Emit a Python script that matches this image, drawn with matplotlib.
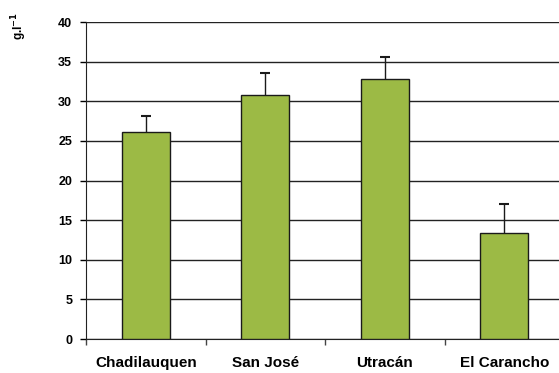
import numpy as np
import matplotlib.pyplot as plt

plt.rcParams['font.family'] = ['Liberation Sans', 'DejaVu Sans']
plt.rcParams['font.weight'] = 'bold'

sitios = ['Chadilauquen', 'San José', 'Utracán', 'El Carancho']
medias = [26.1, 30.8, 32.8, 13.4]
errores = [2.1, 2.8, 2.8, 3.7]

fig = plt.figure(figsize=(5.59, 3.73), dpi=100)
ax = fig.add_axes([0.154, 0.091, 0.855, 0.85])

x = np.arange(len(sitios))
ax.bar(x, medias, width=0.4, color='#9cba45', edgecolor='#1a1a1a', linewidth=1.0, zorder=3)
# upper error only
_, caps, _ = ax.errorbar(x, medias, yerr=[np.zeros(len(errores)), errores], fmt='none',
                         ecolor='#1a1a1a', elinewidth=1.0, capsize=3.5, capthick=1.5, zorder=2)
caps[0].set_visible(False)

ax.set_xlim(-0.5, 3.5)
ax.set_ylim(0, 40)
ax.set_yticks(range(0, 41, 5))
ax.yaxis.grid(True, color='#222222', linewidth=1.0, zorder=0)

# ticks between categories
ax.set_xticks(np.arange(-0.5, 4, 1.0))
ax.set_xticklabels([])
ax.set_xticks(x, minor=True)
ax.set_xticklabels(sitios, minor=True, fontsize=11, fontweight='bold')
ax.tick_params(axis='x', which='minor', length=0, pad=12)
ax.tick_params(axis='x', which='major', length=4, width=1, color='#444444')
ax.tick_params(axis='y', length=4, width=1, labelsize=9, pad=6)

for s in ['top', 'right']:
    ax.spines[s].set_visible(False)
ax.spines['left'].set_color('#222222')
ax.spines['bottom'].set_color('#222222')

fig.text(0.035, 0.93, 'g.l$^{-1}$', rotation=90, fontsize=8.5, fontweight='bold',
         ha='center', va='center')

fig.savefig('out.png', dpi=100)
